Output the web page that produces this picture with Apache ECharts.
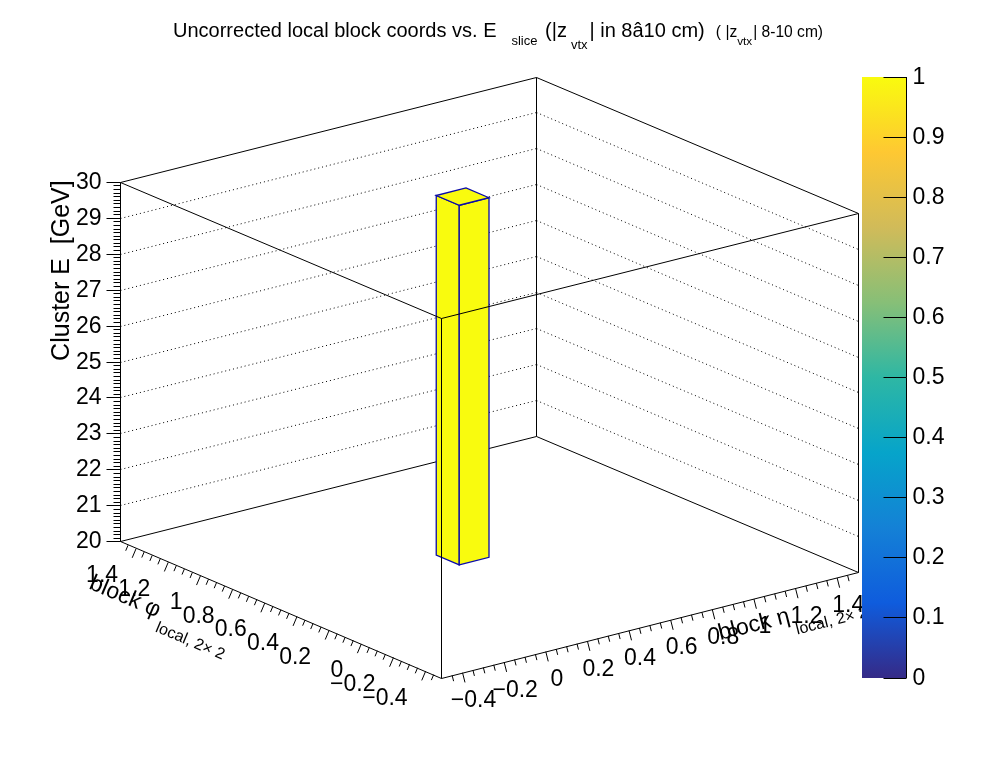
<!DOCTYPE html>
<html>
<head>
<meta charset="utf-8">
<title>Uncorrected local block coords vs. E slice</title>
<script src="https://cdn.jsdelivr.net/npm/echarts@6/dist/echarts.min.js"></script>
<style>
  html, body { margin: 0; padding: 0; background: #fff; }
  #chart { width: 996px; height: 772px; }
</style>
</head>
<body>
<div id="chart"></div>
<script>
// histogram axis ranges
var etaRange = [-0.5, 1.5];
var phiRange = [-0.5, 1.5];
var eRange = [20, 30];

// tick labels
var etaTicks = [-0.4, -0.2, 0, 0.2, 0.4, 0.6, 0.8, 1, 1.2, 1.4];
var phiTicks = [-0.4, -0.2, 0, 0.2, 0.4, 0.6, 0.8, 1, 1.2, 1.4];
var eTicks = [20, 21, 22, 23, 24, 25, 26, 27, 28, 29, 30];
var paletteRange = [0, 1];
var paletteTicks = [0, 0.1, 0.2, 0.3, 0.4, 0.5, 0.6, 0.7, 0.8, 0.9, 1];

// filled bins (one lego column)
var binEtaLo = [0.357];
var binEtaHi = [0.5];
var binPhiLo = [0.5];
var binPhiHi = [0.643];
var binELo = [20];
var binEHi = [30];
var binContent = [1];

// kBird palette
var birdColors = ['#352a87', '#0f5cdd', '#1481d6', '#06a4ca', '#2eb7a4', '#87bf77', '#d1bb59', '#fec832', '#f9fb0e'];

var FONT = 'Liberation Sans, Arial, Helvetica, sans-serif';

/**
 * 3D view (orthographic, like ROOT lego)
 */
var viewAzim = 37.7 * Math.PI / 180;
var viewElev = 19.1 * Math.PI / 180;
var boxAspect = [1, 1, 0.7233];

function project(eta, phi, e) {
  var u = (eta - etaRange[0]) / (etaRange[1] - etaRange[0]) * boxAspect[0];
  var v = (phi - phiRange[0]) / (phiRange[1] - phiRange[0]) * boxAspect[1];
  var w = (e - eRange[0]) / (eRange[1] - eRange[0]) * boxAspect[2];
  var x = u * Math.cos(viewAzim) - v * Math.sin(viewAzim);
  var y = (u * Math.sin(viewAzim) + v * Math.cos(viewAzim)) * Math.sin(viewElev) + w * Math.cos(viewElev);
  return [x, y];
}
var viewX = [-Math.sin(viewAzim) * boxAspect[1], Math.cos(viewAzim) * boxAspect[0]];
var viewY = [0, (boxAspect[0] * Math.sin(viewAzim) + boxAspect[1] * Math.cos(viewAzim)) * Math.sin(viewElev) + boxAspect[2] * Math.cos(viewElev)];

function crisp(p) {
  return [Math.round(p[0] - 0.5) + 0.5, Math.round(p[1] - 0.5) + 0.5];
}
function fmt(v) {
  var s = String(Number(Math.abs(v).toFixed(2)));
  return v < -1e-9 ? '\u2212' + s : s;
}

// box edges
var eta0 = etaRange[0], eta1 = etaRange[1], phi0 = phiRange[0], phi1 = phiRange[1], e0 = eRange[0], e1 = eRange[1];
var backEdges = [
  [eta0, phi1, e0, eta0, phi1, e1],
  [eta1, phi1, e0, eta1, phi1, e1],
  [eta1, phi0, e0, eta1, phi0, e1],
  [eta0, phi1, e0, eta1, phi1, e0],
  [eta1, phi1, e0, eta1, phi0, e0],
  [eta0, phi1, e1, eta1, phi1, e1],
  [eta1, phi1, e1, eta1, phi0, e1],
  [eta0, phi0, e0, eta0, phi1, e0],
  [eta0, phi0, e0, eta1, phi0, e0]
];
var frontEdges = [
  [eta0, phi0, e0, eta0, phi0, e1],
  [eta0, phi0, e1, eta0, phi1, e1],
  [eta0, phi0, e1, eta1, phi0, e1]
];

// ticks: [value, isMajor]
function tickList(range, labels, minorStep) {
  var list = [];
  var n = Math.round((range[1] - range[0]) / minorStep);
  for (var k = 0; k <= n; k++) {
    var v = range[0] + k * minorStep;
    var major = labels.some(function (l) { return Math.abs(l - v) < 1e-6; });
    if (major || (k > 0 && k < n)) list.push([v, major ? 1 : 0]);
  }
  return list;
}

function renderEdge(params, api) {
  var a = crisp(api.coord(project(api.value(0), api.value(1), api.value(2))));
  var b = crisp(api.coord(project(api.value(3), api.value(4), api.value(5))));
  return { type: 'line', shape: { x1: a[0], y1: a[1], x2: b[0], y2: b[1] }, style: { stroke: '#000', lineWidth: 1 } };
}

function renderGridLine(params, api) {
  var e = api.value(0);
  var a = crisp(api.coord(project(eta0, phi1, e)));
  var b = crisp(api.coord(project(eta1, phi1, e)));
  var c = crisp(api.coord(project(eta1, phi0, e)));
  var st = function () { return { stroke: '#000', lineWidth: 1, lineDash: [1, 3] }; };
  return { type: 'group', children: [
    { type: 'line', shape: { x1: a[0], y1: a[1], x2: b[0], y2: b[1] }, style: st() },
    { type: 'line', shape: { x1: b[0], y1: b[1], x2: c[0], y2: c[1] }, style: st() }
  ] };
}

function renderBar(params, api) {
  var etaLo = api.value(0), etaHi = api.value(1), phiLo = api.value(2), phiHi = api.value(3),
    eLo = api.value(4), eHi = api.value(5);
  var p = function (eta, phi, e) { return api.coord(project(eta, phi, e)); };
  var fill = api.visual('color');
  var st = function () { return { fill: fill, stroke: '#0a0aa8', lineWidth: 1.3 }; };
  return { type: 'group', children: [
    { type: 'polygon', shape: { points: [p(etaLo, phiLo, eLo), p(etaLo, phiHi, eLo), p(etaLo, phiHi, eHi), p(etaLo, phiLo, eHi)] }, style: st() },
    { type: 'polygon', shape: { points: [p(etaLo, phiLo, eLo), p(etaHi, phiLo, eLo), p(etaHi, phiLo, eHi), p(etaLo, phiLo, eHi)] }, style: st() },
    { type: 'polygon', shape: { points: [p(etaLo, phiLo, eHi), p(etaHi, phiLo, eHi), p(etaHi, phiHi, eHi), p(etaLo, phiHi, eHi)] }, style: st() }
  ] };
}

function labelStyle(text, align) {
  return { text: text, fill: '#000', fontSize: 23, fontFamily: FONT, align: align, verticalAlign: 'middle' };
}

// E axis: left vertical edge, ticks point left
function renderEAxis(params, api) {
  var e = api.value(0), major = api.value(1);
  var a = crisp(api.coord(project(eta0, phi1, e)));
  var len = major ? 14 : 7;
  var kids = [{ type: 'line', shape: { x1: a[0], y1: a[1], x2: a[0] - len, y2: a[1] }, style: { stroke: '#000', lineWidth: 1 } }];
  if (major) kids.push({ type: 'text', x: a[0] - 19, y: a[1], style: labelStyle(String(e), 'right') });
  return { type: 'group', children: kids };
}

function axisNormal(api, from, to) {
  var a = api.coord(project(from[0], from[1], e0));
  var b = api.coord(project(to[0], to[1], e0));
  var dx = b[0] - a[0], dy = b[1] - a[1], l = Math.sqrt(dx * dx + dy * dy);
  var n = [-dy / l, dx / l];
  if (n[1] < 0) n = [-n[0], -n[1]];
  return n;
}

function renderPhiAxis(params, api) {
  var phi = api.value(0), major = api.value(1);
  var a = api.coord(project(eta0, phi, e0));
  var n = axisNormal(api, [eta0, phi0], [eta0, phi1]);
  var len = major ? 10 : 6;
  var kids = [{ type: 'line', shape: { x1: a[0], y1: a[1], x2: a[0] + n[0] * len, y2: a[1] + n[1] * len }, style: { stroke: '#000', lineWidth: 1 } }];
  if (major) kids.push({ type: 'text', x: a[0] - 18, y: a[1] + 27, style: labelStyle(fmt(phi), 'right') });
  return { type: 'group', children: kids };
}

function renderEtaAxis(params, api) {
  var eta = api.value(0), major = api.value(1);
  var a = api.coord(project(eta, phi0, e0));
  var n = axisNormal(api, [eta0, phi0], [eta1, phi0]);
  var len = major ? 10 : 6;
  var kids = [{ type: 'line', shape: { x1: a[0], y1: a[1], x2: a[0] + n[0] * len, y2: a[1] + n[1] * len }, style: { stroke: '#000', lineWidth: 1 } }];
  if (major) kids.push({ type: 'text', x: a[0] + 11, y: a[1] + 28, style: labelStyle(fmt(eta), 'center') });
  return { type: 'group', children: kids };
}

var subRich = {
  m: { fontSize: 23, lineHeight: 28, verticalAlign: 'top', fontFamily: FONT, fill: '#000' },
  s: { fontSize: 16, lineHeight: 18, verticalAlign: 'top', fontFamily: FONT, fill: '#000', padding: [19, 0, 0, 3] }
};

function renderTitles(params, api) {
  var i = params.dataIndex;
  if (i === 0) {
    var top = api.coord(project(eta0, phi1, e1));
    return { type: 'text', x: top[0] - 58, y: top[1] - 2, rotation: Math.PI / 2,
      style: { text: 'Cluster E  [GeV]', fill: '#000', fontSize: 25, fontFamily: FONT, align: 'right', verticalAlign: 'middle' } };
  }
  if (i === 1) {
    var l = api.coord(project(eta0, phi1, e0));
    var f = api.coord(project(eta0, phi0, e0));
    return { type: 'text', x: l[0] - 25, y: l[1] + 30, rotation: Math.atan2(-(f[1] - l[1]), f[0] - l[0]),
      style: { text: '{m|block φ}{s|local, 2× 2}', rich: subRich, align: 'left', verticalAlign: 'top' } };
  }
  var f2 = api.coord(project(eta0, phi0, e0));
  var r = api.coord(project(eta1, phi0, e0));
  return { type: 'text', x: r[0] - 142, y: r[1] + 50, rotation: Math.atan2(-(r[1] - f2[1]), r[0] - f2[0]),
    style: { text: '{m|block η}{s|local, 2× 2}', rich: subRich, align: 'left', verticalAlign: 'top' } };
}

function renderColourBar(params, api) {
  var lo = api.coord([0, paletteRange[0]]);
  var hi = api.coord([1, paletteRange[1]]);
  var stops = birdColors.map(function (c, k) { return { offset: k / (birdColors.length - 1), color: c }; });
  var xr = Math.round(hi[0]) + 0.5;
  return { type: 'group', children: [
    { type: 'rect', shape: { x: lo[0], y: hi[1], width: hi[0] - lo[0], height: lo[1] - hi[1] },
      style: { fill: new echarts.graphic.LinearGradient(0, 1, 0, 0, stops) } },
    { type: 'line', shape: { x1: xr, y1: lo[1], x2: xr, y2: hi[1] }, style: { stroke: '#000', lineWidth: 1 } }
  ] };
}

// palette axis: ticks inside the bar from its right edge, labels to the right
function renderPaletteAxis(params, api) {
  var v = api.value(0);
  var a = api.coord([1, v]);
  var x = Math.round(a[0]) + 0.5, y = Math.round(a[1] - 0.5) + 0.5;
  return { type: 'group', children: [
    { type: 'line', shape: { x1: x - 23, y1: y, x2: x, y2: y }, style: { stroke: '#000', lineWidth: 1 } },
    { type: 'text', x: x + 6, y: y, style: labelStyle(fmt(v), 'left') }
  ] };
}

var barData = binContent.map(function (c, k) {
  return [binEtaLo[k], binEtaHi[k], binPhiLo[k], binPhiHi[k], binELo[k], binEHi[k], c];
});
var gridData = eTicks.slice(1, -1).map(function (e) { return [e]; });

var chart = echarts.init(document.getElementById('chart'));
chart.setOption({
  backgroundColor: '#fff',
  animation: false,
  title: {
    text: '{m|Uncorrected local block coords vs. E}{s|slice}{m| (|z}{v|vtx}{m|| in 8â10 cm)  }{n|( |z}{t|vtx}{n|| 8-10 cm)}',
    left: 173,
    top: 21,
    padding: 0,
    textStyle: {
      fontWeight: 'normal',
      rich: {
        m: { fontSize: 20, lineHeight: 24, verticalAlign: 'top', fontFamily: FONT, fontWeight: 'normal', color: '#000' },
        s: { fontSize: 13, lineHeight: 14, verticalAlign: 'top', fontFamily: FONT, fontWeight: 'normal', color: '#000', padding: [14, 2, 0, 15] },
        v: { fontSize: 13, lineHeight: 14, verticalAlign: 'top', fontFamily: FONT, fontWeight: 'normal', color: '#000', padding: [18, 2, 0, 4] },
        n: { fontSize: 15.6, lineHeight: 20, verticalAlign: 'top', fontFamily: FONT, fontWeight: 'normal', color: '#000', padding: [4, 0, 0, 0] },
        t: { fontSize: 11.7, lineHeight: 12, verticalAlign: 'top', fontFamily: FONT, fontWeight: 'normal', color: '#000', padding: [15, 1, 0, 0] }
      }
    }
  },
  grid: [
    { left: 120, right: 138, top: 77, bottom: 94 },
    { left: 862, top: 77, width: 44, height: 601 }
  ],
  xAxis: [
    { type: 'value', gridIndex: 0, min: viewX[0], max: viewX[1], show: false },
    { type: 'value', gridIndex: 1, min: 0, max: 1, show: false }
  ],
  yAxis: [
    { type: 'value', gridIndex: 0, min: viewY[0], max: viewY[1], show: false },
    { type: 'value', gridIndex: 1, min: paletteRange[0], max: paletteRange[1], show: false }
  ],
  visualMap: {
    type: 'continuous', show: false, seriesIndex: 2, dimension: 6,
    min: paletteRange[0], max: paletteRange[1],
    inRange: { color: birdColors }
  },
  series: [
    { name: 'grid', type: 'custom', xAxisIndex: 0, yAxisIndex: 0, z: 1, data: gridData, renderItem: renderGridLine },
    { name: 'frameBack', type: 'custom', xAxisIndex: 0, yAxisIndex: 0, z: 2, data: backEdges, renderItem: renderEdge },
    { name: 'bins', type: 'custom', xAxisIndex: 0, yAxisIndex: 0, z: 3, data: barData, renderItem: renderBar },
    { name: 'frameFront', type: 'custom', xAxisIndex: 0, yAxisIndex: 0, z: 4, data: frontEdges, renderItem: renderEdge },
    { name: 'eAxis', type: 'custom', xAxisIndex: 0, yAxisIndex: 0, z: 5, data: tickList(eRange, eTicks, 0.1), renderItem: renderEAxis },
    { name: 'phiAxis', type: 'custom', xAxisIndex: 0, yAxisIndex: 0, z: 5, data: tickList(phiRange, phiTicks, 0.05), renderItem: renderPhiAxis },
    { name: 'etaAxis', type: 'custom', xAxisIndex: 0, yAxisIndex: 0, z: 5, data: tickList(etaRange, etaTicks, 0.05), renderItem: renderEtaAxis },
    { name: 'titles', type: 'custom', xAxisIndex: 0, yAxisIndex: 0, z: 5, data: [[0], [1], [2]], renderItem: renderTitles },
    { name: 'palette', type: 'custom', xAxisIndex: 1, yAxisIndex: 1, z: 8, data: [paletteRange], renderItem: renderColourBar },
    { name: 'paletteAxis', type: 'custom', xAxisIndex: 1, yAxisIndex: 1, z: 9, data: paletteTicks.map(function (v) { return [v]; }), renderItem: renderPaletteAxis }
  ]
});
</script>
</body>
</html>
